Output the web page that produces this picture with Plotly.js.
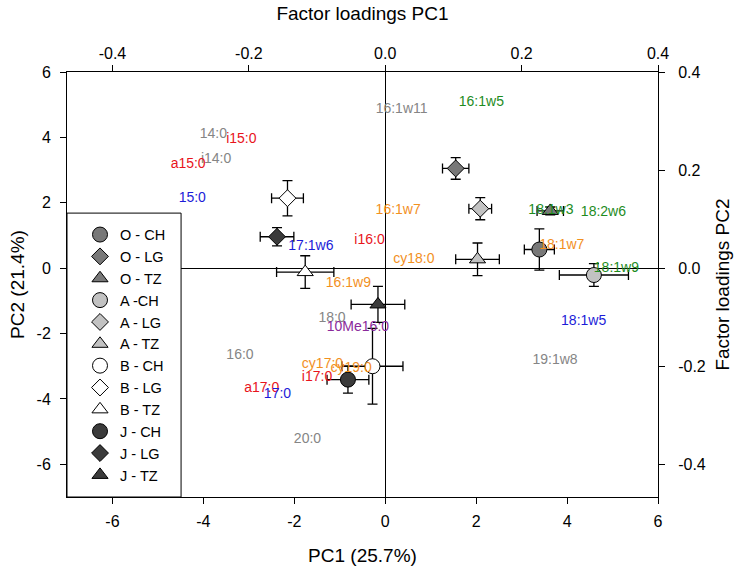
<!DOCTYPE html>
<html>
<head>
<meta charset="utf-8">
<script src="https://cdn.plot.ly/plotly-3.0.1.min.js"></script>
<style>
  html, body { margin: 0; padding: 0; background: #ffffff; }
  #chart { width: 744px; height: 571px; }
</style>
</head>
<body>
<div id="chart"></div>
<script>
// ---- Sample scores (PC1 / PC2) with standard errors ----
const seriesNames = ['O - CH', 'O - LG', 'O - TZ', 'A -CH', 'A - LG', 'A - TZ',
                     'B - CH', 'B - LG', 'B - TZ', 'J - CH', 'J - LG', 'J - TZ'];
const seriesSite  = ['O', 'O', 'O', 'A', 'A', 'A', 'B', 'B', 'B', 'J', 'J', 'J'];
const seriesType  = ['CH', 'LG', 'TZ', 'CH', 'LG', 'TZ', 'CH', 'LG', 'TZ', 'CH', 'LG', 'TZ'];
const pc1Score = [3.39, 1.55, 3.63, 4.59, 2.09, 2.03, -0.28, -2.15, -1.76, -0.82, -2.38, -0.16];
const pc2Score = [0.57, 3.05, 1.75, -0.21, 1.82, 0.27, -3.00, 2.14, -0.12, -3.41, 0.96, -1.11];
const pc1Err   = [0.33, 0.29, 0.29, 0.76, 0.25, 0.48, 0.67, 0.35, 0.63, 0.46, 0.37, 0.59];
const pc2Err   = [0.63, 0.33, 0.12, 0.35, 0.34, 0.50, 1.16, 0.54, 0.50, 0.41, 0.28, 0.55];

// ---- Factor loadings (PLFA markers) ----
const loadNames = ['16:1w11', '14:0', 'i15:0', 'i14:0', 'a15:0', '15:0', '16:1w7', 'i16:0',
                   '17:1w6', 'cy18:0', '16:1w9', '16:1w5', '18:1w3', '18:2w6', '18:1w7',
                   '18:1w9', '18:0', '10Me16:0', '16:0', 'cy17:0', 'cy19:0', 'i17:0',
                   'a17:0', '17:0', '20:0', '18:1w5', '19:1w8'];
const loadPC1 = [0.024, -0.252, -0.211, -0.248, -0.289, -0.283, 0.019, -0.023,
                 -0.109, 0.042, -0.054, 0.141, 0.243, 0.320, 0.259,
                 0.339, -0.078, -0.040, -0.213, -0.092, -0.050, -0.100,
                 -0.181, -0.158, -0.114, 0.291, 0.249];
const loadPC2 = [0.323, 0.273, 0.262, 0.222, 0.211, 0.142, 0.117, 0.057,
                 0.045, 0.018, -0.032, 0.338, 0.118, 0.113, 0.047,
                 -0.001, -0.102, -0.120, -0.178, -0.197, -0.205, -0.222,
                 -0.246, -0.257, -0.349, -0.108, -0.188];
const loadGroup = ['general', 'general', 'grampos', 'general', 'grampos', 'other', 'gramneg', 'grampos',
                   'other', 'gramneg', 'gramneg', 'fungi', 'fungi', 'fungi', 'gramneg',
                   'fungi', 'general', 'actino', 'general', 'gramneg', 'gramneg', 'grampos',
                   'grampos', 'other', 'general', 'other', 'general'];

// ---- Axis ticks ----
const scoreTicks = [-6, -4, -2, 0, 2, 4, 6];
const scoreTickText = ['-6', '-4', '-2', '0', '2', '4', '6'];
const loadTicks = [-0.4, -0.2, 0.0, 0.2, 0.4];
const loadTickText = ['-0.4', '-0.2', '0.0', '0.2', '0.4'];

// ---- Styling ----
const FONT = 'Arial, "Liberation Sans", sans-serif';
const siteFill = { O: '#787878', A: '#c2c2c2', B: '#ffffff', J: '#3b3b3b' };
const typeSymbol = { CH: 'circle', LG: 'diamond', TZ: 'triangle-up' };
const typeSize = { CH: 15, LG: 13, TZ: 14 };
const groupColor = { general: '#858585', grampos: '#e8141c', other: '#1c1cd8',
                     gramneg: '#f2901e', fungi: '#1e8c1e', actino: '#8b2a9b' };

const traces = seriesNames.map((name, i) => ({
  type: 'scatter', mode: 'markers', name: name,
  x: [pc1Score[i]], y: [pc2Score[i]],
  xaxis: 'x', yaxis: 'y',
  marker: { symbol: typeSymbol[seriesType[i]], size: typeSize[seriesType[i]],
            color: siteFill[seriesSite[i]], line: { color: '#000000', width: 1 } },
  error_x: { type: 'data', array: [pc1Err[i]], color: '#000000', thickness: 1.3, width: 5 },
  error_y: { type: 'data', array: [pc2Err[i]], color: '#000000', thickness: 1.3, width: 5 },
  showlegend: true
}));

traces.push({
  type: 'scatter', mode: 'text', name: 'loadings',
  x: loadPC1, y: loadPC2, text: loadNames,
  xaxis: 'x2', yaxis: 'y2',
  textposition: 'middle center',
  textfont: { family: FONT, size: 14, color: loadGroup.map(g => groupColor[g]) },
  hoverinfo: 'text', showlegend: false
});

const scoreRange = [-7, 6];
const loadRange = [-7 / 15, 0.4];

const axisCommon = {
  showgrid: false, showline: true, linecolor: '#000000', linewidth: 1,
  ticks: 'outside', ticklen: 6, tickwidth: 1, tickcolor: '#000000',
  tickfont: { family: FONT, size: 16, color: '#000000' },
  automargin: false
};

const layout = {
  width: 744, height: 571,
  margin: { l: 67, r: 86, t: 72, b: 74, pad: 0 },
  paper_bgcolor: '#ffffff', plot_bgcolor: '#ffffff',
  font: { family: FONT, color: '#000000' },
  showlegend: true,
  xaxis: Object.assign({}, axisCommon, {
    range: scoreRange, tickvals: scoreTicks, ticktext: scoreTickText,
    zeroline: true, zerolinecolor: '#000000', zerolinewidth: 1,
    ticklabelstandoff: 4,
    title: { text: 'PC1 (25.7%)', font: { family: FONT, size: 19 }, standoff: 19 }
  }),
  yaxis: Object.assign({}, axisCommon, {
    range: scoreRange, tickvals: scoreTicks, ticktext: scoreTickText,
    zeroline: true, zerolinecolor: '#000000', zerolinewidth: 1,
    ticklabelstandoff: 6,
    title: { text: 'PC2 (21.4%)', font: { family: FONT, size: 19 }, standoff: 6 }
  }),
  xaxis2: Object.assign({}, axisCommon, {
    overlaying: 'x', side: 'top', anchor: 'y',
    range: loadRange, tickvals: loadTicks, ticktext: loadTickText,
    zeroline: false, ticklabelstandoff: 0,
    title: { text: 'Factor loadings PC1', font: { family: FONT, size: 19 }, standoff: 18 }
  }),
  yaxis2: Object.assign({}, axisCommon, {
    overlaying: 'y', side: 'right', anchor: 'x',
    range: loadRange, tickvals: loadTicks, ticktext: loadTickText,
    zeroline: false, ticklabelstandoff: 10,
    title: { text: 'Factor loadings PC2', font: { family: FONT, size: 19 }, standoff: 10 }
  }),
  shapes: [{
    type: 'rect', xref: 'paper', yref: 'paper', layer: 'above',
    x0: 0, x1: 0.193, y0: 0, y1: 0.668,
    line: { color: '#000000', width: 1 }, fillcolor: '#ffffff'
  }],
  legend: {
    x: 0.022, y: 0.655, xanchor: 'left', yanchor: 'top',
    bgcolor: 'rgba(0,0,0,0)', borderwidth: 0,
    font: { family: FONT, size: 14.5, color: '#000000' },
    tracegroupgap: 0
  }
};

Plotly.newPlot('chart', traces, layout, { displayModeBar: false, responsive: false });
</script>
</body>
</html>
